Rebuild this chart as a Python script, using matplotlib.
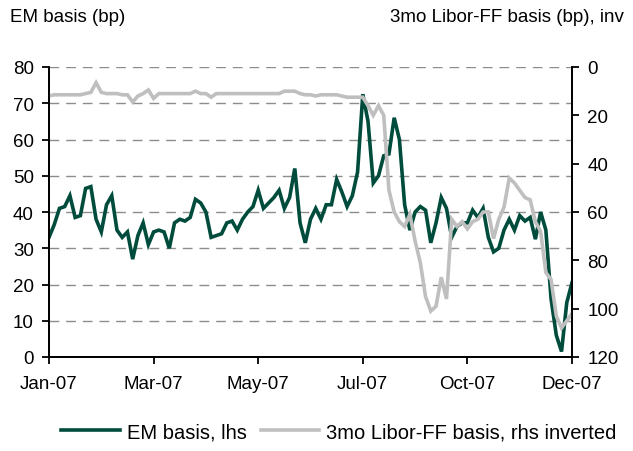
import matplotlib
matplotlib.use("Agg")
import matplotlib.pyplot as plt
import numpy as np

plt.rcParams['font.family'] = ['Liberation Sans', 'DejaVu Sans']

# Data (index = every ~2.5 business days through 2007)
em_basis = [33, 36.5, 41, 41.5, 44.5, 38.5, 39, 46.5, 47, 38,
            34.5, 42, 44.5, 35, 33, 34.5, 27, 33.5, 37, 31,
            34.5, 35, 34.5, 30, 37, 38, 37.5, 38.5, 43.5, 42.5,
            40, 33, 33.5, 34, 37, 37.5, 35, 38, 40, 41.5,
            46, 41, 42.5, 44, 46, 41, 44, 52, 37, 31.5,
            38, 41, 38, 42, 42, 49, 45.5, 41.5, 44.5, 51,
            72.5, 65, 48, 50, 55.5, 56, 66, 60, 42, 35,
            40, 41.5, 40.5, 31.5, 37, 44, 41, 33, 36, 37,
            37, 40.5, 38.5, 41, 33, 29, 30, 35, 38, 35,
            39, 37.5, 38.5, 32.5, 40, 35, 16, 6, 1.5, 15, 20.5]

libor_ff = [12, 11.5, 11.5, 11.5, 11.5, 11.5, 11.5, 11, 10.5, 6.5,
            10.5, 11, 11, 11, 11.5, 11.5, 14.5, 12, 11, 9.5,
            13, 11, 11, 11, 11, 11, 11, 11, 10, 11,
            11, 12.5, 11, 11, 11, 11, 11, 11, 11, 11,
            11, 11, 11, 11, 11, 10, 10, 10, 11, 11.5,
            11.5, 12, 11.5, 11.5, 11.5, 11.5, 12, 12.5, 12.5, 12.5,
            12.5, 16, 20, 16, 20, 51, 60, 64, 66, 61,
            72, 81, 95, 101, 99, 87, 96, 63, 66, 64,
            67, 64, 63, 60, 60, 71, 63, 58, 46, 48,
            51, 54, 55, 64, 68, 85, 88, 103, 108, 105, 102]

tick_labels = ['Jan-07', 'Mar-07', 'May-07', 'Jul-07', 'Oct-07', 'Dec-07']
tick_idx = [0, 20, 40, 60, 80, 100]

W, H = 633, 452
fig = plt.figure(figsize=(W / 100, H / 100), dpi=100)
ax = fig.add_axes([49 / W, 1 - 358 / H, (572 - 49) / W, (358 - 68) / H])
ax2 = ax.twinx()

x = np.arange(len(em_basis))
green = '#004c3c'
grey = '#bfbfbf'
fs = 13.5

l1, = ax.plot(x, em_basis, color=green, lw=2.6, solid_joinstyle='miter')
l2, = ax2.plot(x, libor_ff, color=grey, lw=2.6, solid_joinstyle='miter')

ax.set_xlim(0, 100)
ax.set_ylim(0, 80)
ax.set_yticks(range(0, 81, 10))
ax2.set_ylim(120, 0)
ax2.set_yticks(range(0, 121, 20))
ax.set_xticks(tick_idx)
ax.set_xticklabels(tick_labels)

for yv in range(10, 81, 10):
    ax.axhline(yv, color='#8c8c8c', lw=1.0, dashes=(7, 5), zorder=0)

for a in (ax, ax2):
    a.spines['top'].set_visible(False)
    for s in ('left', 'right', 'bottom'):
        a.spines[s].set_linewidth(1.3)
        a.spines[s].set_color('black')
    a.tick_params(direction='out', length=5, width=1.3, labelsize=fs, color='black')
ax.tick_params(axis='x', pad=8)
ax.tick_params(axis='y', pad=6)
ax2.tick_params(axis='y', pad=6)

fig.text(10 / W, 1 - 18 / H, 'EM basis (bp)', fontsize=fs, ha='left', va='center')
fig.text(624 / W, 1 - 18 / H, '3mo Libor-FF basis (bp), inv', fontsize=fs, ha='right', va='center')

fig.legend([l1, l2], ['EM basis, lhs', '3mo Libor-FF basis, rhs inverted'],
           loc='center', bbox_to_anchor=(339 / W, 1 - 433 / H), ncol=2,
           frameon=False, fontsize=14.5, handlelength=2.9, handletextpad=0.35,
           columnspacing=0.7)

fig.savefig('out.png', dpi=100)
